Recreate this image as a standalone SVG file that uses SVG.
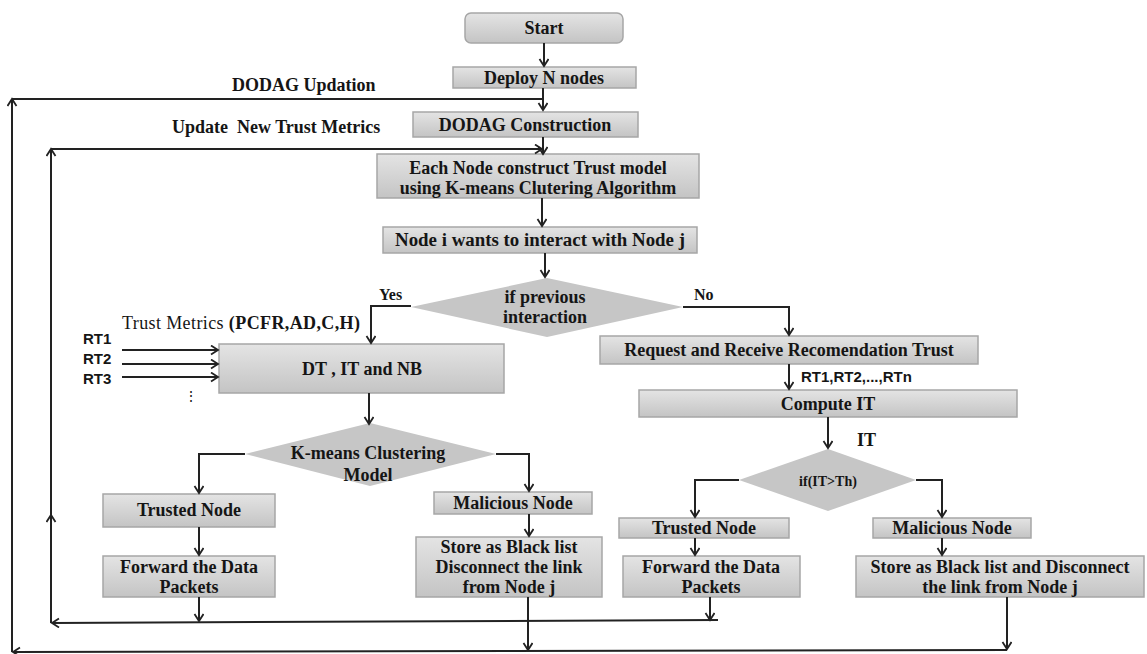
<svg xmlns="http://www.w3.org/2000/svg" width="1147" height="654" viewBox="0 0 1147 654">
<defs>
<linearGradient id="g" x1="0" y1="0" x2="0" y2="1">
<stop offset="0" stop-color="#e4e4e4"/>
<stop offset="1" stop-color="#c4c4c4"/>
</linearGradient>
<marker id="a" markerUnits="userSpaceOnUse" markerWidth="12" markerHeight="12" refX="8" refY="5" orient="auto">
<path d="M1,0.5 L8,5 L1,9.5" fill="none" stroke="#222" stroke-width="1.8"/>
</marker>
<style>
.box{fill:url(#g);stroke:#a6a6a6;stroke-width:1.5}
.dia{fill:#c6c6c6;stroke:none}
.t{font-family:"Liberation Serif","Times New Roman",serif;font-weight:bold;font-size:18px;fill:#151515;text-anchor:middle}
.l{font-family:"Liberation Serif","Times New Roman",serif;font-weight:bold;font-size:18px;fill:#151515;white-space:pre}
.s{font-family:"Liberation Sans",Arial,sans-serif;font-weight:bold;font-size:15px;fill:#151515}
.c path{fill:none;stroke:#222;stroke-width:2}
.c .m{marker-end:url(#a)}
</style>
</defs>
<rect width="1147" height="654" fill="#ffffff"/>

<g id="start"><rect class="box" x="465" y="13" width="158" height="30" rx="6"/><text class="t" x="544" y="34">Start</text></g>
<g id="deploy"><rect class="box" x="453" y="67" width="183" height="21"/><text class="t" x="544" y="84">Deploy N nodes</text></g>
<g id="dodag"><rect class="box" x="413" y="112" width="225" height="25"/><text class="t" x="525" y="131">DODAG Construction</text></g>
<g id="trustmodel"><rect class="box" x="377" y="154" width="322" height="44"/><text class="t" x="538" y="174">Each Node construct Trust model</text><text class="t" x="538" y="194">using K-means Clutering Algorithm</text></g>
<g id="interact"><rect class="box" x="383" y="227" width="314" height="26"/><text class="t" x="540" y="246" textLength="290" lengthAdjust="spacingAndGlyphs">Node i wants to interact with Node j</text></g>
<g id="prev"><polygon class="dia" points="547,278 683,307 547,337 411,307"/><text class="t" x="545" y="303">if previous</text><text class="t" x="545" y="323">interaction</text></g>
<g id="dtitnb"><rect class="box" x="219" y="344" width="285" height="49"/><text class="t" x="362" y="375">DT , IT and NB</text></g>
<g id="kmeans"><polygon class="dia" points="370,423 496,454 370,486 245,454"/><text class="t" x="368" y="459">K-means Clustering</text><text class="t" x="368" y="481">Model</text></g>
<g id="trustedL"><rect class="box" x="103" y="494" width="172" height="33"/><text class="t" x="189" y="516">Trusted Node</text></g>
<g id="forwardL"><rect class="box" x="103" y="556" width="172" height="41"/><text class="t" x="189" y="573">Forward the Data</text><text class="t" x="189" y="593">Packets</text></g>
<g id="maliciousL"><rect class="box" x="434" y="492" width="158" height="22"/><text class="t" x="513" y="509">Malicious Node</text></g>
<g id="storeL"><rect class="box" x="416" y="537" width="186" height="60"/><text class="t" x="509" y="553">Store as Black list</text><text class="t" x="509" y="573">Disconnect the link</text><text class="t" x="509" y="593">from Node j</text></g>
<g id="request"><rect class="box" x="600" y="336" width="378" height="28"/><text class="t" x="789" y="356">Request and Receive Recomendation Trust</text></g>
<g id="computeIT"><rect class="box" x="639" y="390" width="378" height="27"/><text class="t" x="828" y="410">Compute IT</text></g>
<g id="itth"><polygon class="dia" points="828,449 916,480 828,511 739,480"/><text class="t" x="828" y="486" style="font-size:14px">if(IT&gt;Th)</text></g>
<g id="trustedR"><rect class="box" x="619" y="518" width="170" height="20"/><text class="t" x="704" y="534">Trusted Node</text></g>
<g id="forwardR"><rect class="box" x="623" y="556" width="177" height="41"/><text class="t" x="711" y="573">Forward the Data</text><text class="t" x="711" y="593">Packets</text></g>
<g id="maliciousR"><rect class="box" x="873" y="518" width="158" height="20"/><text class="t" x="952" y="534">Malicious Node</text></g>
<g id="storeR"><rect class="box" x="856" y="556" width="288" height="41"/><text class="t" x="1000" y="573">Store as Black list and Disconnect</text><text class="t" x="1000" y="593">the link from Node j</text></g>

<g id="connectors" class="c">
<path class="m" d="M544,43 V66"/>
<path class="m" d="M543,88 V110"/>
<path class="m" d="M543,137 V154"/>
<path class="m" d="M542,198 V226"/>
<path class="m" d="M545,253 V277"/>
<path class="m" d="M411,306 H371 V343"/>
<path class="m" d="M683,307 H789 V335"/>
<path class="m" d="M122,350 H218"/>
<path class="m" d="M122,364 H218"/>
<path class="m" d="M122,377 H218"/>
<path class="m" d="M369,393 V424"/>
<path class="m" d="M245,454 H199 V493"/>
<path class="m" d="M496,454 H529 V491"/>
<path class="m" d="M199,527 V555"/>
<path class="m" d="M529,514 V536"/>
<path class="m" d="M789,364 V389"/>
<path class="m" d="M828,417 V448"/>
<path class="m" d="M739,480 H695 V517"/>
<path class="m" d="M916,480 H942 V517"/>
<path class="m" d="M695,538 V555"/>
<path class="m" d="M942,538 V555"/>
<path class="m" d="M199,597 V621"/>
<path class="m" d="M710,597 V620"/>
<path class="m" d="M718,620 L52,623"/>
<path class="m" d="M51,623 V515"/>
<path class="m" d="M51,517 V149"/>
<path class="m" d="M51,149 H542"/>
<path class="m" d="M528,597 V650"/>
<path class="m" d="M1007,597 V649"/>
<path class="m" d="M1007,650 L13,652"/>
<path class="m" d="M12,652 V99"/>
<path d="M12,99 H543"/>
</g>

<g id="labels">
<text class="l" x="232" y="91">DODAG Updation</text>
<text class="l" x="172" y="133">Update  New Trust Metrics</text>
<text class="l" x="379" y="300" style="font-size:16px">Yes</text>
<text class="l" x="694" y="300" style="font-size:16px">No</text>
<text class="l" x="122" y="329" textLength="238"><tspan style="font-weight:normal">Trust Metrics </tspan>(PCFR,AD,C,H)</text>
<text class="s" x="83" y="344">RT1</text>
<text class="s" x="83" y="364">RT2</text>
<text class="s" x="83" y="384">RT3</text>
<text class="s" x="184" y="401" style="font-weight:normal;font-size:14px">⋮</text>
<text class="s" x="801" y="382" style="font-size:15px">RT1,RT2,...,RTn</text>
<text class="l" x="857" y="446">IT</text>
</g>
</svg>
